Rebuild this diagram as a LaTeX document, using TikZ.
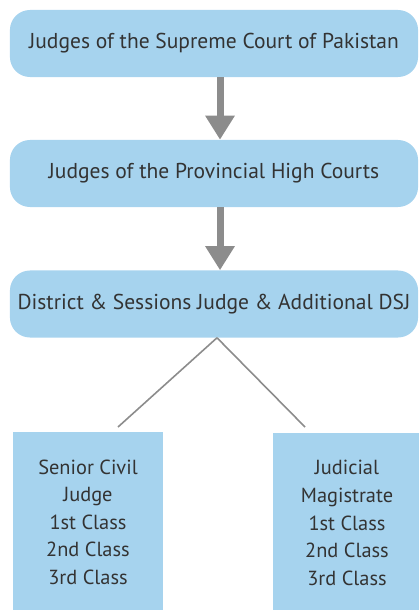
\documentclass[tikz,border=0pt]{standalone}
\usepackage{fontspec}
\setmainfont{PT Sans}
\usetikzlibrary{arrows.meta,positioning}
\definecolor{boxblue}{HTML}{A6D3EE}
\definecolor{arrowgray}{HTML}{8C8C8C}
\definecolor{textgray}{HTML}{333333}

\begin{document}
\begin{tikzpicture}[x=0.025cm,y=-0.025cm,
  rank/.style={fill=boxblue,rounded corners=0.5cm,minimum width=10.2cm,minimum height=1.675cm,
    inner sep=0pt,text=textgray,font=\fontsize{15.3}{18}\selectfont},
  grade/.style={fill=boxblue,align=center,inner sep=0pt,text=textgray,
    font=\fontsize{14.5}{19.6}\selectfont},
  down/.style={arrowgray,line width=0.175cm,-{Triangle[width=0.7cm,length=0.6cm]}},
  branch/.style={arrowgray,line width=0.04cm}]
  \useasboundingbox (0,0) rectangle (419,610);
  \node[rank] (sc) at (214,43.5) {Judges of the Supreme Court of Pakistan};
  \node[rank] (hc) at (214,173.5) {Judges of the Provincial High Courts};
  \node[rank] (dsj) at (214,304) {District \& Sessions Judge \& Additional DSJ};
  \draw[down] ([xshift=0.15cm]sc.south) -- ([xshift=0.15cm]hc.north);
  \draw[down] ([xshift=0.15cm]hc.south) -- ([xshift=0.15cm]dsj.north);
  % lower ranks, cut by the page edge
  \node[grade,minimum width=3.75cm,minimum height=4.5cm] (scj) at (88,522)
    {Senior Civil\\Judge\\1st Class\\2nd Class\\3rd Class};
  \node[grade,minimum width=3.7cm,minimum height=4.5cm] (jm) at (347,523)
    {Judicial\\Magistrate\\1st Class\\2nd Class\\3rd Class};
  \coordinate (scjtop) at (118,427);
  \coordinate (jmtop) at (305,427);
  \draw[branch] ([xshift=0.075cm]dsj.south) -- (scjtop);
  \draw[branch] ([xshift=0.075cm]dsj.south) -- (jmtop);
\end{tikzpicture}
\end{document}
